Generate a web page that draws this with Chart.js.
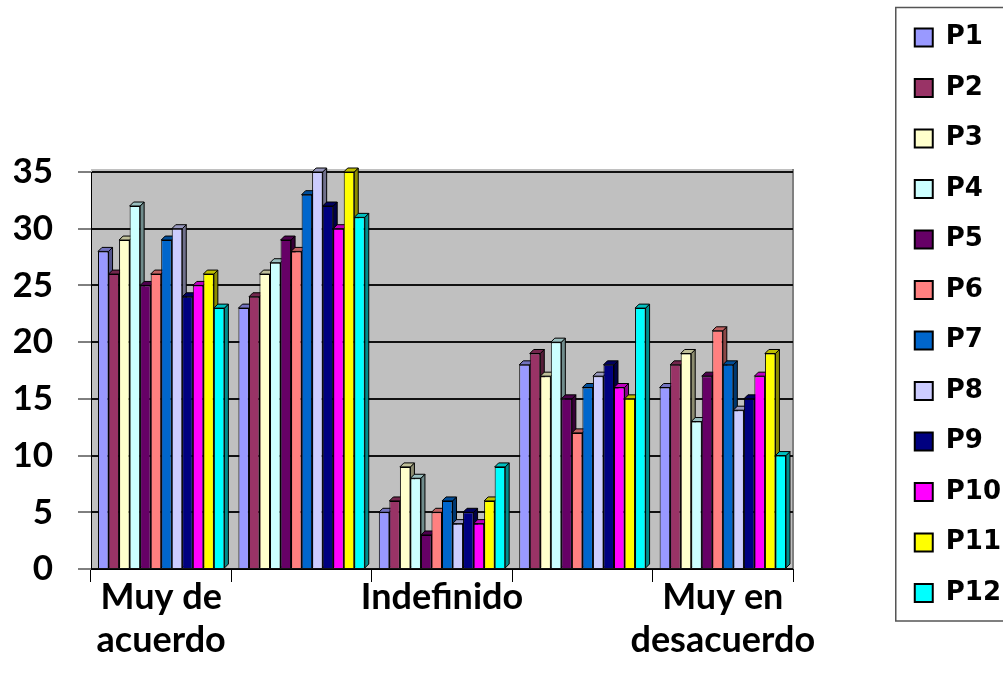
<!DOCTYPE html>
<html>
<head>
<meta charset="utf-8">
<script src="https://cdn.jsdelivr.net/npm/chart.js@4.4.0/dist/chart.umd.min.js"></script>
<style>
  html, body { margin: 0; padding: 0; background: #ffffff; }
  #wrap { position: relative; width: 1003px; height: 686px; }
</style>
</head>
<body>
<div id="wrap"><canvas id="c" width="1003" height="686"></canvas></div>
<script>
// ---- data ----
const categories = ['Muy de acuerdo', 'De acuerdo', 'Indefinido', 'En desacuerdo', 'Muy en desacuerdo'];
const tickLabels = [['Muy de', 'acuerdo'], '', 'Indefinido', '', ['Muy en', 'desacuerdo']];
const yTicks = [0, 5, 10, 15, 20, 25, 30, 35];
const seriesNames = ['P1', 'P2', 'P3', 'P4', 'P5', 'P6', 'P7', 'P8', 'P9', 'P10', 'P11', 'P12'];
const P1  = [28, 23, 5, 18, 16];
const P2  = [26, 24, 6, 19, 18];
const P3  = [29, 26, 9, 17, 19];
const P4  = [32, 27, 8, 20, 13];
const P5  = [25, 29, 3, 15, 17];
const P6  = [26, 28, 5, 12, 21];
const P7  = [29, 33, 6, 16, 18];
const P8  = [30, 35, 4, 17, 14];
const P9  = [24, 32, 5, 18, 15];
const P10 = [25, 30, 4, 16, 17];
const P11 = [26, 35, 6, 15, 19];
const P12 = [23, 31, 9, 23, 10];
const seriesValues = [P1, P2, P3, P4, P5, P6, P7, P8, P9, P10, P11, P12];
const seriesColors = ['#9999FF', '#993366', '#FFFFCC', '#CCFFFF', '#660066', '#FF8080',
                      '#0066CC', '#CCCCFF', '#000080', '#FF00FF', '#FFFF00', '#00FFFF'];

function shade(hex, f) {
  const n = parseInt(hex.slice(1), 16);
  const r = Math.round(((n >> 16) & 255) * f), g = Math.round(((n >> 8) & 255) * f), b = Math.round((n & 255) * f);
  return 'rgb(' + r + ',' + g + ',' + b + ')';
}

const DEPTH = 4;
const RIGHT_PAD = -8;

const bgPlugin = {
  id: 'bgPlugin',
  beforeDraw(chart) {
    const { ctx, chartArea: a } = chart;
    ctx.save();
    ctx.fillStyle = '#C0C0C0';
    ctx.fillRect(a.left, a.top - 3, a.right - a.left, a.bottom - a.top + 3);
    ctx.strokeStyle = '#808080';
    ctx.lineWidth = 2;
    ctx.beginPath();
    ctx.moveTo(a.right, a.top - 3);
    ctx.lineTo(a.right, a.bottom);
    ctx.stroke();
    ctx.restore();
  },
  beforeDatasetsDraw(chart) {
    const ctx = chart.ctx;
    ctx.save();
    chart.data.datasets.forEach((ds, i) => {
      const meta = chart.getDatasetMeta(i);
      meta.data.forEach(el => {
        const p = el.getProps(['x', 'y', 'base', 'width'], true);
        const l = p.x - p.width / 2, r = p.x + p.width / 2;
        ctx.fillStyle = shade(ds.backgroundColor, 0.55);
        ctx.beginPath();
        ctx.moveTo(r, p.y); ctx.lineTo(r + DEPTH, p.y - DEPTH);
        ctx.lineTo(r + DEPTH, p.base - DEPTH); ctx.lineTo(r, p.base);
        ctx.closePath(); ctx.fill();
        ctx.strokeStyle = '#000'; ctx.lineWidth = 1; ctx.stroke();
        ctx.fillStyle = shade(ds.backgroundColor, 0.75);
        ctx.beginPath();
        ctx.moveTo(l, p.y); ctx.lineTo(l + DEPTH, p.y - DEPTH);
        ctx.lineTo(r + DEPTH, p.y - DEPTH); ctx.lineTo(r, p.y);
        ctx.closePath(); ctx.fill(); ctx.stroke();
      });
    });
    ctx.restore();
  },
  afterDraw(chart) {
    const lg = chart.legend;
    if (!lg || !lg.legendHitBoxes || !lg.legendHitBoxes.length) return;
    const hb = lg.legendHitBoxes;
    const first = hb[0], last = hb[hb.length - 1];
    const ctx = chart.ctx;
    ctx.save();
    ctx.strokeStyle = '#555';
    ctx.lineWidth = 1.5;
    const x = first.left - 19, y = first.top - 17;
    ctx.strokeRect(x, y, 1003 - x + 5, last.top + last.height + 15 - y);
    ctx.restore();
  }
};

const datasets = seriesNames.map((name, i) => ({
  label: name,
  data: seriesValues[i],
  backgroundColor: seriesColors[i],
  borderColor: '#000000',
  borderWidth: 1,
  xAxisID: 'x',
  yAxisID: 'y'
}));

new Chart(document.getElementById('c'), {
  type: 'bar',
  data: { labels: categories, datasets },
  plugins: [bgPlugin],
  options: {
    responsive: false,
    animation: false,
    devicePixelRatio: 1,
    layout: { padding: { left: 14, right: RIGHT_PAD, top: 0, bottom: 0 } },
    datasets: { bar: { categoryPercentage: 0.9, barPercentage: 1.0 } },
    plugins: {
      tooltip: { enabled: false },
      legend: {
        position: 'right',
        align: 'start',
        labels: {
          color: '#000',
          font: { family: 'DejaVu Sans', weight: 'bold', size: 26 },
          boxWidth: 18,
          boxHeight: 18,
          padding: 24.5,
          generateLabels(chart) {
            const items = Chart.defaults.plugins.legend.labels.generateLabels(chart);
            items.forEach(it => { it.lineWidth = 2; it.strokeStyle = '#000'; });
            return items;
          }
        }
      }
    },
    scales: {
      x: {
        type: 'category',
        position: 'bottom',
        offset: true,
        grid: { display: true, drawOnChartArea: false, drawTicks: true, tickLength: 13, color: '#000', lineWidth: 1, offset: true },
        border: { display: true, color: '#000', width: 1 },
        ticks: {
          color: '#000',
          font: { family: 'Lato', weight: 'bold', size: 36, lineHeight: 1.2 },
          padding: -6,
          maxRotation: 0,
          autoSkip: false,
          callback: (v, i) => tickLabels[i]
        },
        afterFit: s => { s.height = 117; }
      },
      xTop: {
        type: 'linear',
        axis: 'x',
        position: 'top',
        display: true,
        grid: { display: false, drawTicks: false },
        border: { display: false },
        ticks: { display: false },
        afterFit: s => { s.height = 172; }
      },
      y: {
        type: 'linear',
        position: 'left',
        min: 0,
        max: 35,
        afterBuildTicks: s => { s.ticks = yTicks.map(v => ({ value: v })); },
        grid: { display: true, drawOnChartArea: true, drawTicks: true, tickLength: 13, color: '#111', lineWidth: 2, tickWidth: 1, tickColor: '#000' },
        border: { display: true, color: '#000', width: 1 },
        ticks: {
          color: '#000',
          font: { family: 'Lato', weight: 'bold', size: 35 },
          padding: 25
        },
        afterFit: s => { s.width = 77; }
      },
      yRight: {
        type: 'linear',
        axis: 'y',
        position: 'right',
        display: true,
        grid: { display: false, drawTicks: false },
        border: { display: false },
        ticks: { display: false },
        afterFit: s => { s.width = Math.max(0, 1003 - RIGHT_PAD - s.chart.legend.width - 793); }
      }
    }
  }
});
</script>
</body>
</html>
